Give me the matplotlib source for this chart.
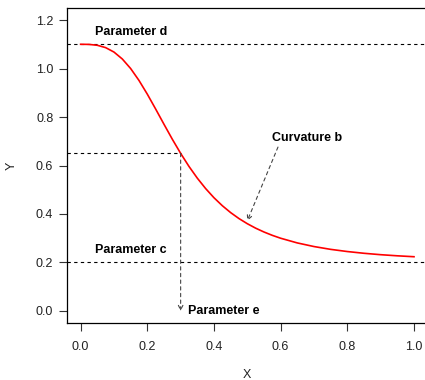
import matplotlib
matplotlib.use("Agg")
import matplotlib.pyplot as plt

# fitted dose-response curve (c=0.2, d=1.1, e=0.3, b=3)
x_vals = [0.0, 0.025, 0.05, 0.075, 0.1, 0.125, 0.15, 0.175, 0.2, 0.225,
          0.25, 0.275, 0.3, 0.325, 0.35, 0.375, 0.4, 0.425, 0.45, 0.475,
          0.5, 0.525, 0.55, 0.575, 0.6, 0.65, 0.7, 0.75, 0.8, 0.85,
          0.9, 0.95, 1.0]
y_vals = [1.1, 1.0995, 1.0959, 1.0862, 1.0679, 1.0393, 1.0, 0.9509, 0.8943, 0.8330,
          0.7701, 0.7084, 0.65, 0.5962, 0.5478, 0.5048, 0.4670, 0.4342, 0.4057, 0.3811,
          0.3599, 0.3415, 0.3257, 0.3119, 0.3, 0.2806, 0.2657, 0.2541, 0.2451, 0.2379,
          0.2321, 0.2275, 0.2237]

param_c = 0.2
param_d = 1.1
param_e = 0.3
half_y = 0.65
curv_x = 0.5
curv_y = 0.372

x_ticks = [0.0, 0.2, 0.4, 0.6, 0.8, 1.0]
y_ticks = [0.0, 0.2, 0.4, 0.6, 0.8, 1.0, 1.2]

plt.rcParams['font.family'] = ['Liberation Sans', 'DejaVu Sans']
plt.rcParams['font.size'] = 9

fig = plt.figure(figsize=(4.25, 3.8), dpi=100)
# plot region is cut by the right edge of the figure
ax = fig.add_axes([67.3 / 425, 57.4 / 380, 1 - 67.3 / 425, 314.2 / 380])

ax.plot(x_vals, y_vals, color='red', lw=1.2, zorder=3)

dash = (0, (3, 3))
ax.axhline(param_d, color='black', lw=0.8, ls=dash)
ax.axhline(param_c, color='black', lw=0.8, ls=dash)
ax.plot([-0.1, param_e], [half_y, half_y], color='black', lw=0.8, ls=dash)

ax.annotate('', xy=(param_e, 0.0), xytext=(param_e, half_y),
            arrowprops=dict(arrowstyle='->, head_length=0.35, head_width=0.18',
                            color='#444444', lw=0.8, ls=dash,
                            shrinkA=0, shrinkB=0))
ax.annotate('', xy=(curv_x, curv_y), xytext=(0.592, 0.676),
            arrowprops=dict(arrowstyle='->, head_length=0.35, head_width=0.18',
                            color='#444444', lw=0.8, ls=dash,
                            shrinkA=0, shrinkB=0))

ax.text(0.043, 1.15, 'Parameter d', fontweight='bold', va='center', ha='left')
ax.text(0.043, 0.2515, 'Parameter c', fontweight='bold', va='center', ha='left')
ax.text(0.322, 0.0, 'Parameter e', fontweight='bold', va='center', ha='left')
ax.text(0.574, 0.713, 'Curvature b', fontweight='bold', va='center', ha='left')

ax.set_xlim(-0.04, 1.033)
ax.set_ylim(-0.048, 1.248)
ax.set_xticks(x_ticks)
ax.set_yticks(y_ticks)
ax.set_xticklabels([f'{t:.1f}' for t in x_ticks])
ax.set_yticklabels([f'{t:.1f}' for t in y_ticks])
ax.tick_params(axis='both', length=5.8, width=0.8, color='#333333', labelcolor='#222222')
ax.tick_params(axis='x', pad=7.5)
ax.tick_params(axis='y', pad=4.3)
for side in ax.spines.values():
    side.set_linewidth(0.9)
ax.spines['right'].set_visible(False)

fig.text(247 / 425, 1 - 375 / 380, 'X', ha='center', va='center', color='#222222')
fig.text(12 / 425, 1 - 166 / 380, 'Y', ha='center', va='center', rotation=90, color='#222222')

fig.savefig('out.png', dpi=100, bbox_inches=None)
